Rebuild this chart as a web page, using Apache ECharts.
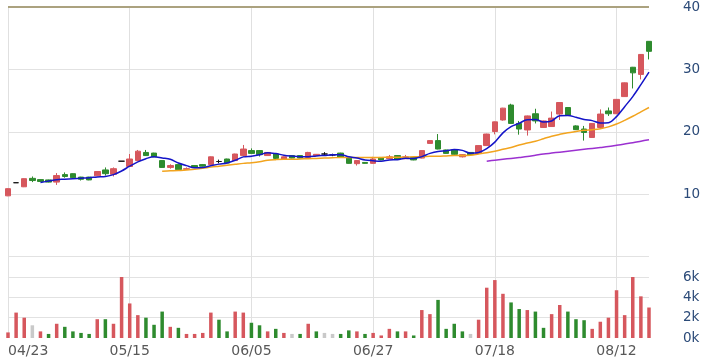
<!DOCTYPE html>
<html>
<head>
<meta charset="utf-8">
<script src="https://cdn.jsdelivr.net/npm/echarts@6/dist/echarts.min.js"></script>
<style>
html,body{margin:0;padding:0;background:#fff;}
#chart{width:710px;height:364px;}
</style>
</head>
<body>
<div id="chart"></div>
<script>
const dates = ['04/23','04/24','04/25','04/26','04/29','04/30','05/02','05/03','05/06','05/07','05/08','05/09','05/10','05/13','05/14',
'05/15','05/16','05/17','05/20','05/21','05/22','05/23','05/24','05/27','05/28','05/29','05/30','05/31','06/03','06/04',
'06/05','06/06','06/10','06/11','06/12','06/13','06/14','06/17','06/18','06/19','06/20','06/21','06/24','06/25','06/26',
'06/27','06/28','07/01','07/02','07/03','07/04','07/05','07/08','07/09','07/10','07/11','07/12','07/15','07/16','07/17',
'07/18','07/19','07/22','07/23','07/24','07/25','07/26','07/29','07/30','07/31','08/01','08/02','08/05','08/06','08/07',
'08/12','08/13','08/14','08/15','08/16'];

const opens  = [9.75,11.85,11.2,12.55,12.35,12.3,11.95,13.15,13.3,12.75,12.75,12.95,13.9,13.2,15.3,14.45,15.4,16.7,16.6,15.4,
14.3,14.75,14.0,14.6,14.75,14.75,15.25,15.65,15.4,16.2,17.0,17.0,16.2,16.45,15.65,16.2,16.2,15.9,16.2,16.45,
16.3,16.6,15.8,14.9,15.1,14.95,15.9,15.7,16.2,15.7,15.9,15.8,18.15,18.6,17.1,17.1,16.0,16.7,16.55,17.8,
20.05,21.9,24.3,21.35,20.3,22.9,20.7,20.85,22.85,23.9,20.95,20.45,19.1,20.7,23.35,22.9,25.65,30.35,29.2,34.5];
const closes = [10.9,11.85,12.5,12.2,12.05,11.95,13.0,12.85,12.65,12.4,12.3,13.65,13.3,14.1,15.3,15.65,16.9,16.2,16.0,14.3,
14.6,13.95,14.1,14.3,14.5,16.0,15.25,15.0,16.45,17.25,16.55,16.35,16.7,15.75,16.0,15.8,15.8,16.7,16.4,16.45,
16.3,15.9,14.95,15.4,14.95,15.65,15.5,16.0,15.65,16.0,15.5,17.0,18.6,17.25,16.55,16.4,16.35,16.35,17.8,19.65,
21.6,23.8,21.35,20.45,22.55,21.75,21.75,22.2,24.7,22.7,20.35,19.9,21.35,22.85,22.9,25.2,27.85,29.45,32.4,32.9];
const lows   = [9.7,11.85,11.15,11.95,12.0,11.9,11.5,12.65,12.6,12.2,12.25,12.9,13.0,12.85,15.3,14.4,15.35,16.15,15.95,14.25,
14.1,13.9,13.9,14.25,14.45,14.7,14.95,14.95,15.35,16.05,16.5,16.05,16.15,15.7,15.6,15.75,15.75,15.85,16.15,16.2,
16.1,15.85,14.9,14.6,14.9,14.9,15.45,15.65,15.6,15.65,15.45,15.75,18.1,17.2,16.5,16.3,15.9,16.3,16.5,17.75,
19.6,21.8,21.3,19.55,19.4,21.35,20.65,20.8,21.9,22.65,20.3,18.6,19.05,20.65,22.55,22.85,25.6,26.95,28.4,31.6];
const highs  = [10.95,11.85,12.55,12.85,12.4,12.35,13.4,13.5,13.35,12.8,12.8,13.7,14.3,14.3,15.3,16.45,17.1,17.1,16.65,15.45,
14.8,14.8,14.3,14.65,14.85,16.05,15.55,15.7,16.5,17.9,17.35,17.05,16.75,16.5,16.05,16.25,16.25,16.8,16.45,16.75,
16.5,16.65,15.85,15.45,15.15,16.0,15.95,16.3,16.25,16.3,15.95,17.05,18.65,19.65,17.15,17.15,16.4,16.75,17.85,19.7,
21.65,23.85,24.5,21.75,22.6,23.7,21.8,23.25,24.75,23.95,21.05,20.95,21.4,23.6,23.9,25.25,27.9,30.4,32.45,34.55];

const volumes = [550,2500,2000,1250,650,400,1400,1100,650,500,400,1850,1850,1400,6000,3400,2250,2000,1300,2600,
1100,1000,400,400,500,2500,1800,650,2600,2500,1500,1250,650,900,500,400,400,1400,650,500,
400,400,750,650,400,500,250,900,650,650,250,2750,2350,3750,900,1400,650,400,1800,4950,
5700,4350,3500,2850,2750,2600,1000,2350,3250,2600,1850,1750,900,1600,2000,4700,2250,6000,4100,3000];
// 1 = up (red), -1 = down (green), 0 = unchanged (gray)
const volDir = [1,1,1,0,1,-1,1,-1,-1,-1,-1,1,-1,1,1,1,1,-1,-1,-1,
1,-1,1,1,1,1,-1,-1,1,1,-1,-1,1,-1,1,0,-1,1,-1,0,
0,-1,-1,1,-1,1,1,1,-1,1,-1,1,1,-1,-1,-1,-1,0,1,1,
1,1,-1,-1,1,-1,-1,1,1,-1,-1,-1,1,1,1,1,1,1,1,1];

const ma5Start = 4;
const ma5 = [11.9,12.11,12.34,12.41,12.5,12.57,12.64,12.77,12.86,13.15,13.73,14.5,15.2,15.7,16.01,15.81,15.6,15.01,14.59,14.25,
14.29,14.57,14.83,15.01,15.44,15.99,16.1,16.32,16.66,16.52,16.27,16.12,16.01,16.01,16.14,16.23,16.33,16.35,16.0,15.8,
15.5,15.37,15.29,15.5,15.55,15.76,15.73,16.03,16.55,16.87,16.98,17.16,17.03,16.58,16.69,17.31,18.35,19.84,20.84,21.37,
21.95,21.98,21.57,21.74,22.59,22.62,22.34,21.97,21.8,21.43,21.47,22.44,24.03,25.65,27.56,29.56];
const ma20Start = 19;
const ma20 = [13.7,13.75,13.8,13.9,14.0,14.15,14.35,14.5,14.65,14.8,14.95,15.05,15.2,15.45,15.55,15.6,15.6,15.65,15.7,15.75,
15.8,15.85,15.9,15.9,15.9,15.9,15.9,15.9,15.95,15.95,15.95,16.0,16.0,16.1,16.1,16.15,16.2,16.2,16.25,16.45,
16.65,16.9,17.2,17.5,17.9,18.2,18.5,18.9,19.3,19.6,19.85,20.05,20.25,20.35,20.5,20.8,21.25,21.85,22.5,23.2,23.9];
const ma60Start = 59;
const ma60 = [15.3,15.45,15.6,15.75,15.9,16.05,16.25,16.45,16.6,16.75,16.9,17.05,17.2,17.35,17.5,17.65,17.85,18.05,18.25,18.5,18.75];

const priceTicks = [0, 40, 10];   // min, max, interval
const volTicks = [0, 8000, 2000];

const RED = '#d6575d', GREEN = '#2e8b2e', GRAY = '#c9c9c9';
const pad = (start, arr) => Array(start).fill(null).concat(arr);
const candleData = opens.map((o, i) => [o, closes[i], lows[i], highs[i]]);
const volData = volumes.map((v, i) => ({
  value: v,
  itemStyle: { color: volDir[i] > 0 ? RED : (volDir[i] < 0 ? GREEN : GRAY) }
}));

const gridL = 8, gridR = 61;
const chart = echarts.init(document.getElementById('chart'), null, { renderer: 'canvas' });
const splitX = { show: true, interval: 14, lineStyle: { color: '#e0e0e0', width: 1 } };
chart.setOption({
  animation: false,
  backgroundColor: '#fff',
  grid: [
    { left: gridL, right: gridR, top: 6.5, bottom: 107.3 },
    { left: gridL, right: gridR, top: 256.7, bottom: 26 }
  ],
  xAxis: [
    { type: 'category', gridIndex: 0, data: dates, boundaryGap: false,
      axisLine: { show: false }, axisTick: { show: false }, axisLabel: { show: false, interval: 14 },
      splitLine: splitX },
    { type: 'category', gridIndex: 1, data: dates, boundaryGap: false,
      axisLine: { show: false }, axisTick: { show: false },
      axisLabel: { show: true, interval: 14, color: '#585858', fontSize: 14, fontFamily: 'DejaVu Sans', margin: 6,
                   alignMinLabel: 'left' },
      splitLine: splitX }
  ],
  yAxis: [
    { type: 'value', gridIndex: 0, position: 'right', min: priceTicks[0], max: priceTicks[1], interval: priceTicks[2],
      axisLine: { show: false }, axisTick: { show: false },
      axisLabel: { showMinLabel: false, color: '#2b4a78', fontSize: 13.5, fontFamily: 'DejaVu Sans', margin: 34, align: 'left' },
      splitLine: { show: true, lineStyle: { color: '#e2e2e2', width: 1.2 } } },
    { type: 'value', gridIndex: 1, position: 'right', min: volTicks[0], max: volTicks[1], interval: volTicks[2],
      axisLine: { show: false }, axisTick: { show: false },
      axisLabel: { showMaxLabel: false, color: '#2b4a78', fontSize: 13.5, fontFamily: 'DejaVu Sans', margin: 34, align: 'left',
                   formatter: v => (v / 1000) + 'k' },
      splitLine: { show: true, lineStyle: { color: ['rgba(0,0,0,0)','#e2e2e2','#e2e2e2','#e2e2e2','#e2e2e2'], width: 1.2 } } }
  ],
  series: [
    { type: 'candlestick', xAxisIndex: 0, yAxisIndex: 0, data: candleData, barWidth: 6, clip: false,
      itemStyle: { color: RED, color0: GREEN, borderColor: RED, borderColor0: GREEN, borderColorDoji: '#111', borderWidth: 1 },
      markLine: { silent: true, symbol: 'none', label: { show: false }, animation: false,
        lineStyle: { color: '#ab a27f'.replace(' ', ''), type: 'solid', width: 2 },
        data: [{ yAxis: priceTicks[1] }] } },
    { type: 'line', xAxisIndex: 0, yAxisIndex: 0, data: pad(ma5Start, ma5), showSymbol: false, smooth: 0.35,
      lineStyle: { color: '#1414c8', width: 1.5 }, z: 5 },
    { type: 'line', xAxisIndex: 0, yAxisIndex: 0, data: pad(ma20Start, ma20), showSymbol: false, smooth: 0.35,
      lineStyle: { color: '#f2a41e', width: 1.5 }, z: 4 },
    { type: 'line', xAxisIndex: 0, yAxisIndex: 0, data: pad(ma60Start, ma60), showSymbol: false, smooth: 0.35,
      lineStyle: { color: '#9b30d0', width: 1.5 }, z: 4 },
    { type: 'bar', xAxisIndex: 1, yAxisIndex: 1, data: volData, barWidth: 3.5 }
  ]
});
</script>
</body>
</html>
